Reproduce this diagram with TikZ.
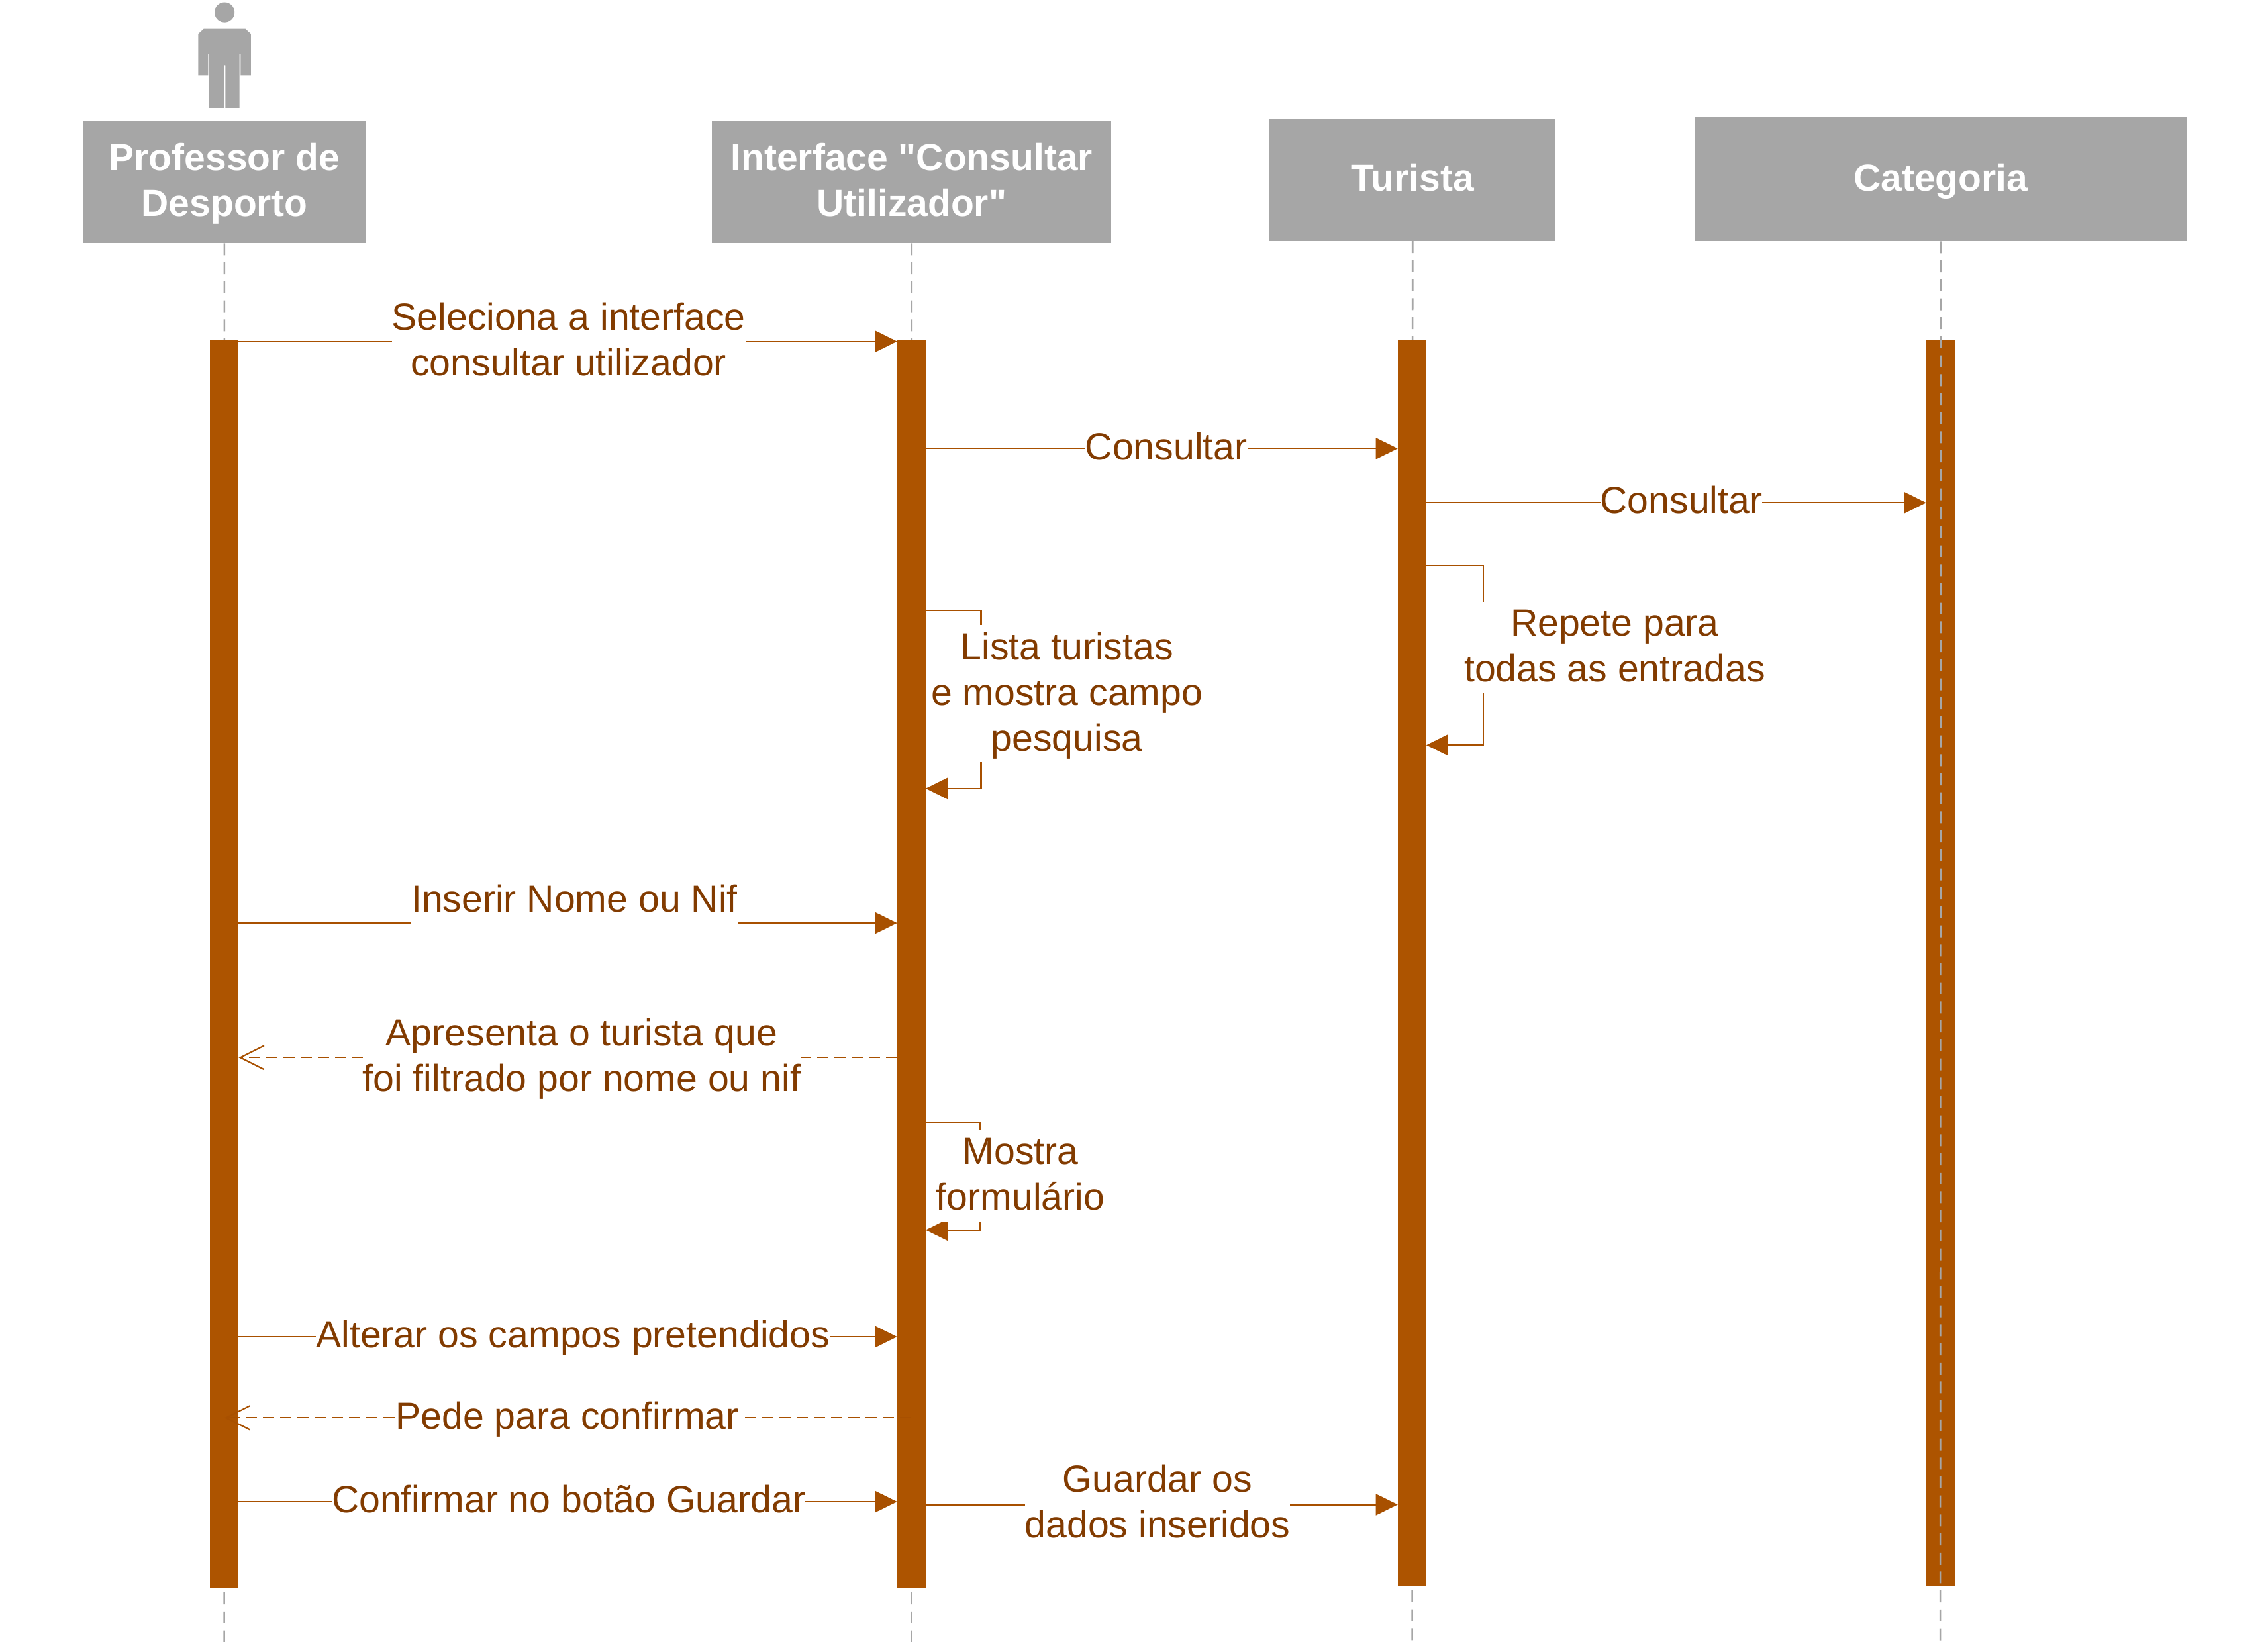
\documentclass[tikz,border=0pt]{standalone}
\usepackage{fontspec}
\newfontfamily\arialf{Liberation Sans}
\usetikzlibrary{arrows.meta}
\definecolor{barc}{HTML}{AD5400}
\definecolor{linec}{HTML}{A85000}
\definecolor{txtc}{HTML}{823B00}
\definecolor{greyc}{HTML}{A6A6A6}
\newcommand{\st}{\rule[-17pt]{0pt}{69pt}}
\tikzset{
  headbox/.style={fill=greyc,draw=none,text=white,font=\arialf\fontsize{57}{69}\selectfont\bfseries,align=center,inner sep=0pt,anchor=north west},
  lifeline/.style={draw=greyc,line width=2.6pt,dash pattern=on 18pt off 10.7pt},
  actbar/.style={fill=barc,draw=none,inner sep=0pt,anchor=north west},
  msg/.style={draw=linec,line width=2.2pt,-{Triangle[length=33pt,width=32pt]}},
  reply/.style={draw=linec,line width=2.2pt,dash pattern=on 17pt off 9pt,-{Straight Barb[length=36pt,width=36pt,line width=2.2pt]}},
  lbl/.style={fill=white,text=txtc,font=\arialf\fontsize{57.2}{69}\selectfont,align=center,inner sep=0pt,outer sep=0pt}
}
\begin{document}
\begin{tikzpicture}[x=2.185pt,y=-2.185pt]
\useasboundingbox (0,0) rectangle (1567.5,1135);
% actor
\fill[greyc] (155.2,8.5) ellipse[x radius=6.9,y radius=6.9];
\fill[greyc] (140.8,20) -- (169.6,20) -- (173.4,23.5) -- (173.4,52.3) -- (166.3,52.3) -- (166.3,37.5) -- (165.5,37.5) -- (165.5,74.5) -- (155.8,74.5) -- (155.8,45) -- (154.8,45) -- (154.8,74.5) -- (144.7,74.5) -- (144.7,37.5) -- (143.9,37.5) -- (143.9,52.3) -- (137,52.3) -- (137,23.5) -- cycle;
% heads
\node[headbox,minimum width=196*2.185pt,minimum height=84.5*2.185pt] (hp) at (57,83.5) {Professor de\st\\Desporto\st};
\node[headbox,minimum width=276*2.185pt,minimum height=84.5*2.185pt] (hi) at (492,83.5) {Interface "Consultar\st\\Utilizador"\st};
\node[headbox,minimum width=197.6*2.185pt,minimum height=84.7*2.185pt] (ht) at (877.4,81.8) {Turista\st};
\node[headbox,minimum width=340.6*2.185pt,minimum height=85.5*2.185pt] (hc) at (1170.9,81.1) {Categoria\st};
% ends of lifelines
\coordinate (ep) at (155,1135);
\coordinate (ei) at (630,1135);
\coordinate (et) at (976,1135);
\coordinate (ec) at (1341,1135);
\draw[lifeline] (hp.south) -- (ep);
\draw[lifeline] (hi.south) -- (ei);
\draw[lifeline] (ht.south) -- (et);
% bars
\node[actbar,minimum width=19.6*2.185pt,minimum height=862.7*2.185pt] (bp) at (145.2,235.3) {};
\node[actbar,minimum width=19.6*2.185pt,minimum height=862.7*2.185pt] (bi) at (620,235.3) {};
\node[actbar,minimum width=19.6*2.185pt,minimum height=861.3*2.185pt] (bt) at (966,235.3) {};
\node[actbar,minimum width=19.6*2.185pt,minimum height=861.3*2.185pt] (bc) at (1331.2,235.3) {};
\draw[lifeline] (hc.south) -- (ec);
% messages
\draw[msg] (bp.east |- 0,236) -- (bi.west |- 0,236);
\node[lbl] (m1) at (393,236) {Seleciona a interface\st\\consultar utilizador\st};
\draw[msg] (bi.east |- 0,310) -- (bt.west |- 0,310);
\node[lbl] (m2) at (806,310) {Consultar\st};
\draw[msg] (bt.east |- 0,347.5) -- (bc.west |- 0,347.5);
\node[lbl] (m3) at (1162,347) {Consultar\st};
\draw[msg] (bi.east |- 0,422) -| (678,483) |- (bi.east |- 0,545);
\node[lbl] (m4) at (737.4,479.5) {Lista turistas\st\\e mostra campo\st\\pesquisa\st};
\draw[msg] (bt.east |- 0,391) -| (1025,450) |- (bt.east |- 0,515);
\node[lbl] (m5) at (1116,447.5) {Repete para\st\\todas as entradas\st};
\draw[msg] (bp.east |- 0,638) -- (bi.west |- 0,638);
\node[lbl,minimum width=226*2.185pt,minimum height=36*2.185pt] (m6) at (397,622.5) {Inserir Nome ou Nif\st};
\draw[reply] (bi.west |- 0,731) -- (bp.east |- 0,731);
\node[lbl] (m7) at (402,730.7) {Apresenta o turista que\st\\foi filtrado por nome ou nif\st};
\draw[msg] (bi.east |- 0,775.7) -| (677.3,812) |- (bi.east |- 0,850.2);
\node[lbl] (m8) at (705.3,812.6) {Mostra\st\\formulário\st};
\draw[msg] (bp.east |- 0,924) -- (bi.west |- 0,924);
\node[lbl] (m9) at (396,923.7) {Alterar os campos pretendidos\st};
\draw[reply] (bi.center |- 0,980) -- (bp.center |- 0,980);
\node[lbl] (m10) at (392,979.7) {Pede para confirmar\st};
\draw[msg] (bp.east |- 0,1038) -- (bi.west |- 0,1038);
\node[lbl] (m11) at (393,1037.7) {Confirmar no botão Guardar\st};
\draw[msg] (bi.east |- 0,1040) -- (bt.west |- 0,1040);
\node[lbl] (m12) at (800,1039.2) {Guardar os\st\\dados inseridos\st};
\end{tikzpicture}
\end{document}
